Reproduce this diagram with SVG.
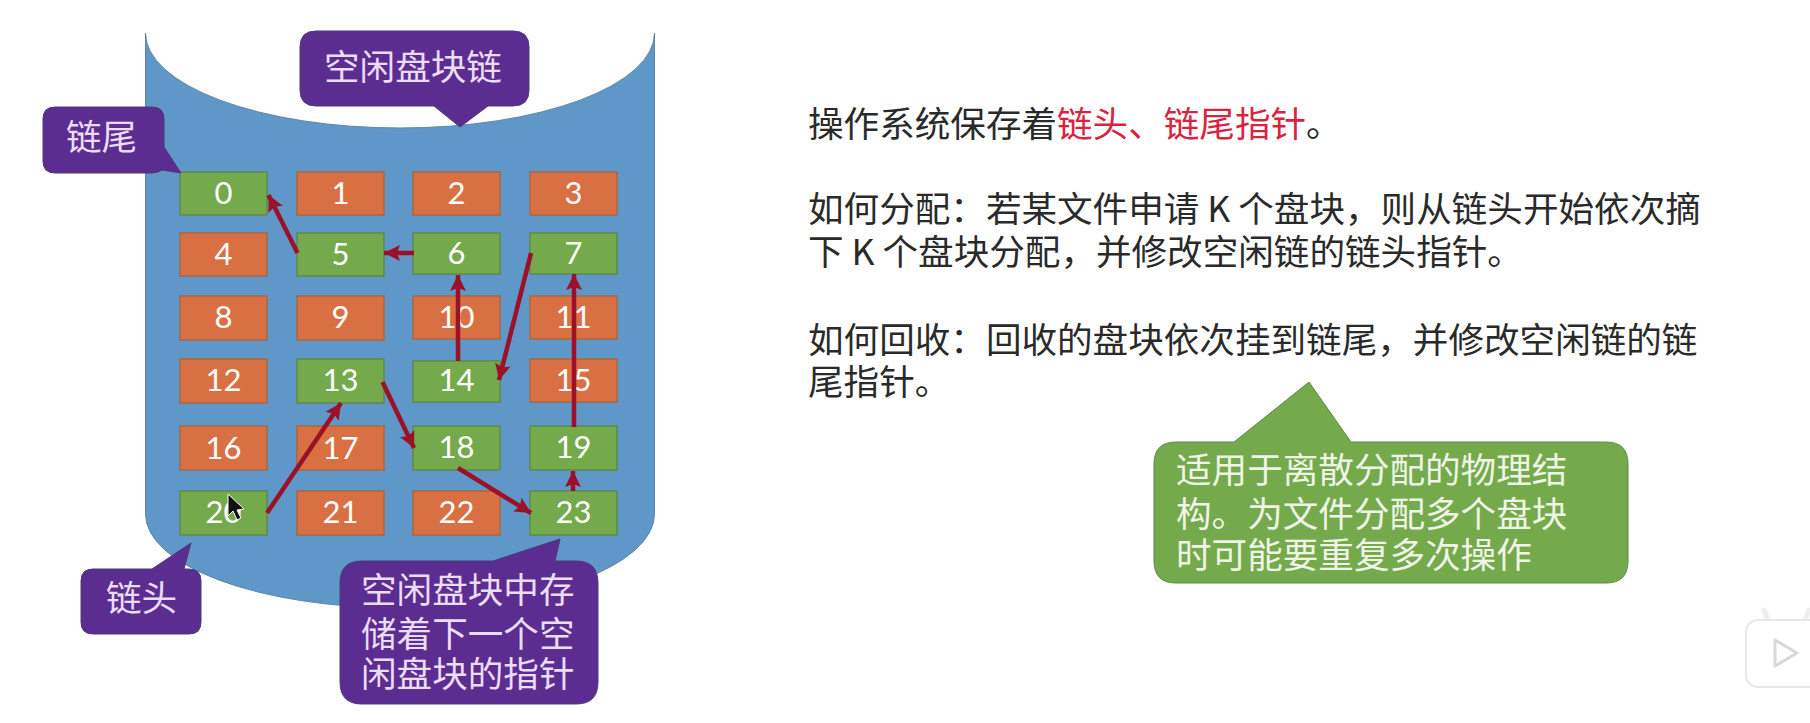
<svg xmlns="http://www.w3.org/2000/svg" width="1810" height="723" viewBox="0 0 1810 723">
<style>
.cn{font-family:"Noto Sans CJK SC","Noto Sans",sans-serif;font-weight:400;font-size:35.6px}
.w{fill:#eadcf5}.k{fill:#2a2a2a}.r{fill:#d9233f}.gw{fill:#eef5e6}
.b rect{stroke-width:1.5}
.o rect{fill:#d97044;stroke:#a9683f}
.g rect{fill:#74a94c;stroke:#5f8a4a}
.b text{font-family:Lato,"Open Sans",sans-serif;font-size:31px;fill:#fff;text-anchor:middle}
.p{fill:#5b2d90;stroke:#4a3a78;stroke-width:1}
.c line{stroke:#9b1127;stroke-width:4.500;marker-end:url(#a)}
</style>
<defs>
<marker id="a" markerUnits="userSpaceOnUse" markerWidth="18" markerHeight="16" refX="16" refY="8" orient="auto"><path d="M0 0L16 8L0 16L3 8Z" fill="#9b1127"/></marker>
</defs>
<rect width="1810" height="723" fill="#fff"/>
<g id="cylinder"><path d="M145.500 33A254.500 95 0 0 0 654.500 33V514A254.500 94 0 0 1 145.500 514Z" fill="#5f97c9" stroke="#5b87ad" stroke-width="1"/></g>
<g id="n0" class="b g"><rect x="180" y="172" width="87" height="43"/><text x="223.500" y="204">0</text></g>
<g id="n1" class="b o"><rect x="297" y="172" width="87" height="43"/><text x="340.500" y="204">1</text></g>
<g id="n2" class="b o"><rect x="413" y="172" width="87" height="43"/><text x="456.500" y="204">2</text></g>
<g id="n3" class="b o"><rect x="530" y="172" width="87" height="43"/><text x="573.500" y="204">3</text></g>
<g id="n4" class="b o"><rect x="180" y="233" width="87" height="43"/><text x="223.500" y="265">4</text></g>
<g id="n5" class="b g"><rect x="297" y="233" width="87" height="43"/><text x="340.500" y="265">5</text></g>
<g id="n6" class="b g"><rect x="413" y="233" width="87" height="41"/><text x="456.500" y="264">6</text></g>
<g id="n7" class="b g"><rect x="530" y="233" width="87" height="41"/><text x="573.500" y="264">7</text></g>
<g id="n8" class="b o"><rect x="180" y="296" width="87" height="44"/><text x="223.500" y="328">8</text></g>
<g id="n9" class="b o"><rect x="297" y="296" width="87" height="44"/><text x="340.500" y="328">9</text></g>
<g id="n10" class="b o"><rect x="413" y="296" width="87" height="43"/><text x="456.500" y="328">10</text></g>
<g id="n11" class="b o"><rect x="530" y="296" width="87" height="43"/><text x="573.500" y="328">11</text></g>
<g id="n12" class="b o"><rect x="180" y="359" width="87" height="44"/><text x="223.500" y="391">12</text></g>
<g id="n13" class="b g"><rect x="297" y="359" width="87" height="44"/><text x="340.500" y="391">13</text></g>
<g id="n14" class="b g"><rect x="413" y="361" width="87" height="41"/><text x="456.500" y="391">14</text></g>
<g id="n15" class="b o"><rect x="530" y="359" width="87" height="43"/><text x="573.500" y="391">15</text></g>
<g id="n16" class="b o"><rect x="180" y="426" width="87" height="44"/><text x="223.500" y="459">16</text></g>
<g id="n17" class="b o"><rect x="297" y="426" width="87" height="44"/><text x="340.500" y="459">17</text></g>
<g id="n18" class="b g"><rect x="413" y="426" width="87" height="44"/><text x="456.500" y="458">18</text></g>
<g id="n19" class="b g"><rect x="530" y="426" width="87" height="44"/><text x="573.500" y="458">19</text></g>
<g id="n20" class="b g"><rect x="180" y="491" width="87" height="44"/><text x="223.500" y="523">20</text></g>
<g id="n21" class="b o"><rect x="297" y="491" width="87" height="44"/><text x="340.500" y="523">21</text></g>
<g id="n22" class="b o"><rect x="413" y="491" width="87" height="44"/><text x="456.500" y="523">22</text></g>
<g id="n23" class="b g"><rect x="530" y="491" width="87" height="44"/><text x="573.500" y="523">23</text></g>
<g id="connectors" class="c">
<line x1="297.500" y1="253" x2="268.500" y2="195"/>
<line x1="414" y1="253" x2="384" y2="253"/>
<line x1="531" y1="253" x2="499" y2="380"/>
<line x1="458" y1="361" x2="458" y2="275"/>
<line x1="574" y1="427" x2="574" y2="274"/>
<line x1="573" y1="491" x2="573" y2="471"/>
<line x1="458" y1="468" x2="531" y2="513"/>
<line x1="382.500" y1="382" x2="414" y2="448"/>
<line x1="267" y1="513" x2="341" y2="403"/>
</g>
<g id="cursor"><path d="M228 494V516L233 511L237 520L241 518L237 510L244 509Z" fill="#111" stroke="#fff" stroke-width="1"/></g>
<g id="callout-list"><path class="p" d="M316 31H513Q529 31 529 47V90Q529 106 513 106H488L460 127L434 106H316Q300 106 300 90V47Q300 31 316 31Z"/><text class="cn w" x="324" y="80">空闲盘块链</text></g>
<g id="callout-tail"><path class="p" d="M55 107H152Q164 107 164 119V147L181 173L162 170Q158 173 152 173H55Q43 173 43 161V119Q43 107 55 107Z"/><text class="cn w" x="66" y="150">链尾</text></g>
<g id="callout-head"><path class="p" d="M93 569H152L191 543L184 569H189Q201 569 201 581V622Q201 634 189 634H93Q81 634 81 622V581Q81 569 93 569Z"/><text class="cn w" x="106" y="611">链头</text></g>
<g id="callout-pointer"><path class="p" d="M362 561H493L560 539L555 561H576Q598 561 598 583V682Q598 704 576 704H362Q340 704 340 682V583Q340 561 362 561Z"/><text class="cn w" x="361" y="603">空闲盘块中存</text><text class="cn w" x="361" y="647">储着下一个空</text><text class="cn w" x="361" y="687">闲盘块的指针</text></g>
<g id="callout-note"><path d="M1176 442H1234L1309 382L1351 442H1606Q1628 442 1628 464V561Q1628 583 1606 583H1176Q1154 583 1154 561V464Q1154 442 1176 442Z" fill="#74a94c" stroke="#5f8a4a" stroke-width="1"/><text class="cn gw" x="1176" y="483">适用于离散分配的物理结</text><text class="cn gw" x="1176" y="527">构。为文件分配多个盘块</text><text class="cn gw" x="1176" y="568">时可能要重复多次操作</text></g>
<g id="text">
<text class="cn k" x="808" y="137">操作系统保存着<tspan class="r">链头、链尾指针</tspan>。</text>
<text class="cn k" x="808" y="222">如何分配：若某文件申请 K 个盘块，则从链头开始依次摘</text>
<text class="cn k" x="808" y="265">下 K 个盘块分配，并修改空闲链的链头指针。</text>
<text class="cn k" x="808" y="353">如何回收：回收的盘块依次挂到链尾，并修改空闲链的链</text>
<text class="cn k" x="808" y="395">尾指针。</text>
</g>
<g id="badge"><path d="M1768 620L1764 610M1805 620L1809 610" stroke="#eee" stroke-width="5" stroke-linecap="round"/><rect x="1746" y="620" width="80" height="67" rx="12" fill="#fff" stroke="#e8e8e8" stroke-width="2"/><path d="M1775 640V666L1797 653Z" fill="#fff" stroke="#d8d8d8" stroke-width="3" stroke-linejoin="round"/></g>
</svg>
